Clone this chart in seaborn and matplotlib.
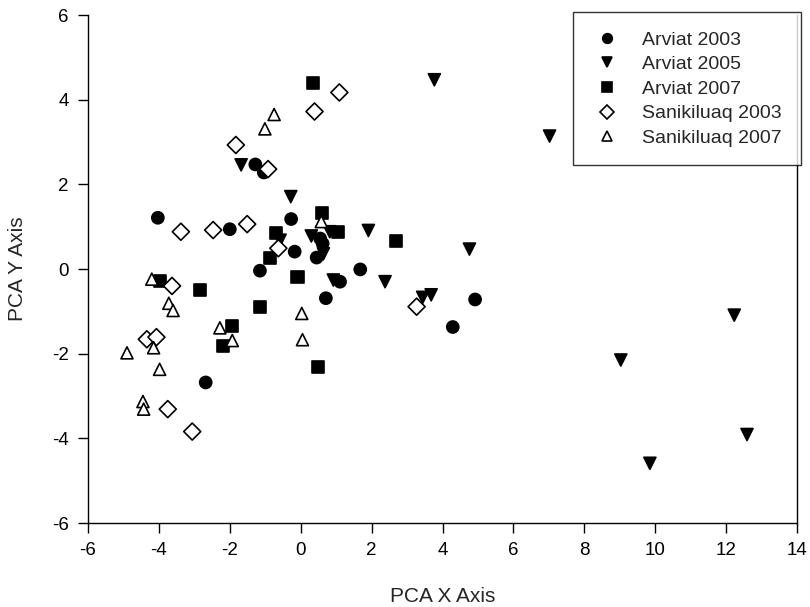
import matplotlib
matplotlib.use("Agg")
import matplotlib.pyplot as plt
import seaborn as sns
import pandas as pd

# ---- data ----
arviat2003_x = [-4.03, -2.00, -0.27, -0.17, -1.15, 1.68, 0.55, 0.62, 0.45, 1.11, 0.71, 4.92, 4.29, -2.68, -1.28, -1.04]
arviat2003_y = [1.21, 0.94, 1.18, 0.41, -0.04, -0.01, 0.72, 0.60, 0.27, -0.30, -0.69, -0.72, -1.37, -2.68, 2.47, 2.28]

arviat2005_x = [-0.28, -1.68, 3.77, 7.02, -0.58, 0.30, 0.82, 0.64, 0.92, 1.91, 2.38, 4.76, 3.44, 3.68, 12.23, 9.03, 12.59, 9.85]
arviat2005_y = [1.71, 2.46, 4.47, 3.14, 0.68, 0.78, 0.88, 0.36, -0.26, 0.91, -0.30, 0.47, -0.67, -0.61, -1.09, -2.15, -3.91, -4.59]

arviat2007_x = [0.35, 0.61, -0.71, -0.87, 1.06, 2.69, -0.09, -3.98, -2.85, -1.16, -1.95, -2.19, 0.49]
arviat2007_y = [4.39, 1.33, 0.84, 0.25, 0.87, 0.65, -0.20, -0.28, -0.50, -0.89, -1.34, -1.81, -2.31]

sanik2003_x = [1.09, 0.39, -1.83, -0.92, -3.38, -2.47, -1.51, -0.63, -3.63, -4.34, -4.07, -3.75, -3.06, 3.27]
sanik2003_y = [4.17, 3.72, 2.93, 2.36, 0.88, 0.92, 1.06, 0.49, -0.40, -1.66, -1.61, -3.31, -3.84, -0.89]

sanik2007_x = [-0.75, -1.01, 0.58, -4.20, -3.72, -3.60, 0.03, -2.28, -1.93, 0.05, -4.15, -4.90, -3.98, -4.45, -4.43]
sanik2007_y = [3.65, 3.31, 1.12, -0.24, -0.81, -0.98, -1.05, -1.39, -1.69, -1.67, -1.86, -1.98, -2.37, -3.13, -3.31]

groups = ["Arviat 2003", "Arviat 2005", "Arviat 2007", "Sanikiluaq 2003", "Sanikiluaq 2007"]
xs = [arviat2003_x, arviat2005_x, arviat2007_x, sanik2003_x, sanik2007_x]
ys = [arviat2003_y, arviat2005_y, arviat2007_y, sanik2003_y, sanik2007_y]

x_ticks = [-6, -4, -2, 0, 2, 4, 6, 8, 10, 12, 14]
y_ticks = [-6, -4, -2, 0, 2, 4, 6]

rows = []
for g, xl, yl in zip(groups, xs, ys):
    for a, b in zip(xl, yl):
        rows.append({"x": a, "y": b, "group": g})
df = pd.DataFrame(rows)

sns.set_style("ticks")
plt.rcParams["font.family"] = ["Liberation Sans", "DejaVu Sans"]

fig = plt.figure(figsize=(8.1, 6.07), dpi=100)
ax = fig.add_axes([88 / 810, 1 - 523 / 607, (797 - 88) / 810, (523 - 15) / 607])

markers = {"Arviat 2003": "o", "Arviat 2005": "v", "Arviat 2007": "s",
           "Sanikiluaq 2003": "D", "Sanikiluaq 2007": "^"}
palette = {"Arviat 2003": "black", "Arviat 2005": "black", "Arviat 2007": "black",
           "Sanikiluaq 2003": "white", "Sanikiluaq 2007": "white"}

sns.scatterplot(data=df, x="x", y="y", hue="group", style="group",
                hue_order=groups, style_order=groups,
                markers=markers, palette=palette, edgecolor="black",
                linewidth=1.2, s=75, ax=ax, legend=True, zorder=3)

ax.set_xlim(-6, 14)
ax.set_ylim(-6, 6)
ax.set_xticks(x_ticks)
ax.set_yticks(y_ticks)
ax.set_xticklabels([str(t) for t in x_ticks])
ax.set_yticklabels([str(t) for t in y_ticks])
ax.tick_params(direction="out", length=7, width=1, labelsize=13.5, colors="black", pad=7)
ax.spines["top"].set_visible(False)
ax.spines["right"].set_visible(True)
ax.tick_params(axis="y", right=False)
for sp in ["left", "bottom", "right"]:
    ax.spines[sp].set_linewidth(1)
    ax.spines[sp].set_color("black")

ax.set_xlabel("PCA X Axis", fontsize=15, labelpad=20)
ax.set_ylabel("PCA Y Axis", fontsize=15, labelpad=18)

leg = ax.legend(loc="upper right", bbox_to_anchor=(1.005, 1.005), borderaxespad=0,
                frameon=True, fancybox=False, edgecolor="black", fontsize=14,
                markerscale=0.8, handletextpad=1.0, borderpad=0.95, labelspacing=0.36,
                handlelength=1.6)
leg.get_frame().set_linewidth(1)
leg.set_zorder(5)

fig.savefig("out.png", dpi=100, facecolor="white")
